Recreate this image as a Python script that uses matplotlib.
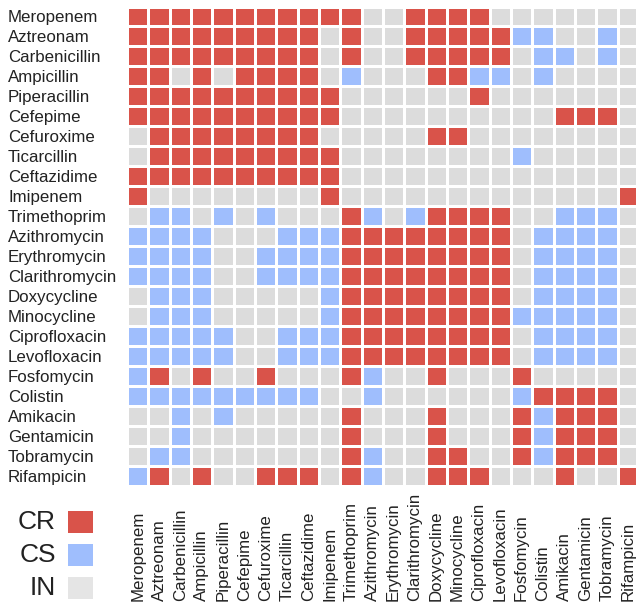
import matplotlib
matplotlib.use("Agg")
import matplotlib.pyplot as plt
import numpy as np
from matplotlib.colors import ListedColormap
from matplotlib.patches import Rectangle
from matplotlib.transforms import blended_transform_factory

plt.rcParams["font.family"] = ["Liberation Sans", "DejaVu Sans"]

DRUGS = [
    "Meropenem", "Aztreonam", "Carbenicillin", "Ampicillin", "Piperacillin",
    "Cefepime", "Cefuroxime", "Ticarcillin", "Ceftazidime", "Imipenem",
    "Trimethoprim", "Azithromycin", "Erythromycin", "Clarithromycin",
    "Doxycycline", "Minocycline", "Ciprofloxacin", "Levofloxacin",
    "Fosfomycin", "Colistin", "Amikacin", "Gentamicin", "Tobramycin",
    "Rifampicin",
]

# one string per row drug, one character per column drug
# R = collateral resistance, S = collateral sensitivity, . = no interaction
INTERACTIONS = [
    "RRRRRRRRRRR..RRRR.......",
    "RRRRRRRRR.R..RRRRRSS..S.",
    "RRRRRRRRR.R..RRRRR.SS.S.",
    "RR.R.RRRR.S...RRSS.S....",
    "RRRRRRRRRR......R.......",
    "RRRRRRRRRR..........RRR.",
    ".RRRRRRRR.....RR........",
    ".RRRRRRRRR........S.....",
    "RRRRRRRRRR..............",
    "R........R.............R",
    ".SS.S.S...RS.SRRRR..SSS.",
    "SSSS...SSSRRRRRRRR.SSSS.",
    "SSSS..SSSSRRRRRRRR.SSSS.",
    "SSSS..SSSSRRRRRRRR.SSSS.",
    ".SSS.....SRRRRRRRR.SSSS.",
    ".SSS.....SRRRRRRRRSSSSS.",
    "SSSSS..SSSRRRRRRRR.SSSS.",
    "SSSSS..SSSRRRRRRRR.SSSS.",
    "SR.R..R...RS..R...R.....",
    "SSSSSSSSS..S......SRRRR.",
    "..S.S.....R...R...RSRRR.",
    "..S.......R...R...RSRRR.",
    ".SS.......RS..RR..RSRRR.",
    "SR.R..RRR.RS..RRR...R..R",
]

LEGEND_LABELS = ["CR", "CS", "IN"]

CODE = {".": 0, "S": 1, "R": 2}
GRAY, BLUE, RED = "#DCDCDC", "#9FBEFD", "#D9534A"

W, H = 636, 602


def px_x(x):
    return x / W


def px_y(y):
    return 1 - y / H


def main():
    grid = np.array([[CODE[c] for c in row] for row in INTERACTIONS])
    n = len(DRUGS)

    fig = plt.figure(figsize=(W / 100, H / 100), dpi=100)
    fig.patch.set_facecolor("white")

    cell_w, cell_h = 21.33, 19.96
    top = 6.5
    ax = fig.add_axes([px_x(127), px_y(top + n * cell_h),
                       n * cell_w / W, n * cell_h / H])
    ax.pcolormesh(np.arange(n + 1), np.arange(n + 1), grid,
                  cmap=ListedColormap([GRAY, BLUE, RED]), vmin=0, vmax=2,
                  edgecolors="white", linewidth=0.75)
    ax.set_xlim(0, n)
    ax.set_ylim(n, 0)
    for side in ax.spines.values():
        side.set_visible(False)

    ax.set_xticks([])
    ax.set_yticks(np.arange(n) + 0.5)
    ax.set_yticklabels(DRUGS, ha="left", fontsize=12.2, color="#222222")
    ax.tick_params(axis="y", length=0, pad=(127 - 8) * 0.72)

    # column names run upward from the bottom edge
    trans = blended_transform_factory(ax.transData, fig.transFigure)
    for i, name in enumerate(DRUGS):
        ax.text(i + 0.5, px_y(601), name, transform=trans, rotation=90,
                ha="center", va="bottom", fontsize=12.2, color="#222222",
                clip_on=False)

    # legend swatches
    swatch_colors = [RED, BLUE, "#E5E5E5"]
    swatch_tops = [511, 544, 577]
    for label, color, y0 in zip(LEGEND_LABELS, swatch_colors, swatch_tops):
        fig.patches.append(Rectangle((px_x(68), px_y(y0 + 22)),
                                     25 / W, 22 / H, transform=fig.transFigure,
                                     facecolor=color, edgecolor="none"))
        fig.text(px_x(56), px_y(y0 + 11), label, ha="right", va="center",
                 fontsize=19, color="#222222")

    fig.savefig("out.png", dpi=100)
    plt.close(fig)


if __name__ == "__main__":
    main()
